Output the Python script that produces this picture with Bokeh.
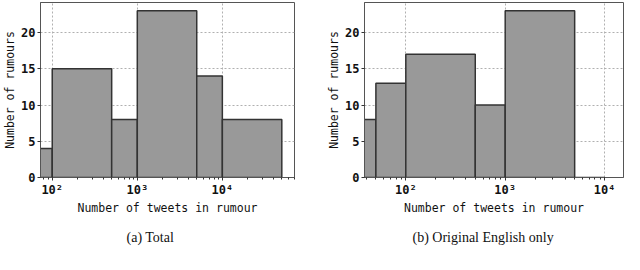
from bokeh.plotting import figure
from bokeh.models import Range1d, Title
from bokeh.layouts import row
from bokeh.embed import file_html
from bokeh.resources import INLINE

# ---- data ----
total_edges = [10, 100, 500, 1000, 5000, 10000, 50000]
total_counts = [4, 15, 8, 23, 14, 8]
english_edges = [10, 50, 100, 500, 1000, 5000, 10000]
english_counts = [8, 13, 17, 10, 23, 0]
y_ticks = [0, 5, 10, 15, 20]
x_tick_labels = {100: "10²", 1000: "10³", 10000: "10⁴"}
captions = ["(a) Total", "(b) Original English only"]
x_label = "Number of tweets in rumour"
y_label = "Number of rumours"

MONO = "DejaVu Sans Mono"
SERIF = "Liberation Serif"


def make(edges, counts, xr, caption, width, mbl, mbr, cap_offset):
    p = figure(width=width, height=254, x_axis_type="log",
               x_range=Range1d(*xr), y_range=Range1d(0, 24.15),
               output_backend="svg", toolbar_location=None,
               min_border_left=mbl, min_border_right=mbr,
               min_border_top=2, min_border_bottom=0)
    p.quad(left=edges[:-1], right=edges[1:], top=counts, bottom=0,
           fill_color="#999999", line_color="#333333", line_width=1.5)
    p.yaxis.ticker = y_ticks
    p.xaxis.major_label_overrides = x_tick_labels
    p.xaxis.axis_label = x_label
    p.yaxis.axis_label = y_label
    for ax in p.axis:
        ax.major_label_text_font = MONO
        ax.major_label_text_font_style = "bold"
        ax.major_label_text_font_size = "12px"
        ax.major_label_text_color = "#111111"
        ax.axis_label_text_font = MONO
        ax.axis_label_text_font_style = "normal"
        ax.axis_label_text_font_size = "11.5px"
        ax.axis_label_text_color = "#111111"
        ax.axis_line_color = "#555555"
        ax.major_tick_line_color = "#333333"
        ax.major_tick_out = 3
        ax.major_tick_in = 0
        ax.minor_tick_out = 2
        ax.minor_tick_in = 0
        ax.minor_tick_line_color = "#333333"
        ax.major_label_standoff = 2
        ax.axis_label_standoff = 1
    p.yaxis.minor_tick_line_color = None
    for g in (p.xgrid, p.ygrid):
        g.grid_line_color = "#b0b0b0"
        g.grid_line_dash = "2 2"
        g.grid_line_width = 1
    p.outline_line_color = "#555555"
    p.outline_line_width = 1
    p.outline_line_alpha = 1
    p.background_fill_color = "white"
    p.border_fill_color = "white"
    t = Title(text=caption, align="left", offset=cap_offset, standoff=20,
              text_font=SERIF, text_font_size="14px",
              text_font_style="normal", text_color="#111111")
    p.add_layout(t, "below")
    return p


p1 = make(total_edges, total_counts, (72.8, 70500), captions[0],
          312, 10, 18, 86)
p2 = make(english_edges, english_counts, (38.4, 15500), captions[1],
          312, 52, 1, 48)

layout = row(p1, p2)
open("out.html", "w").write(file_html(layout, INLINE))
